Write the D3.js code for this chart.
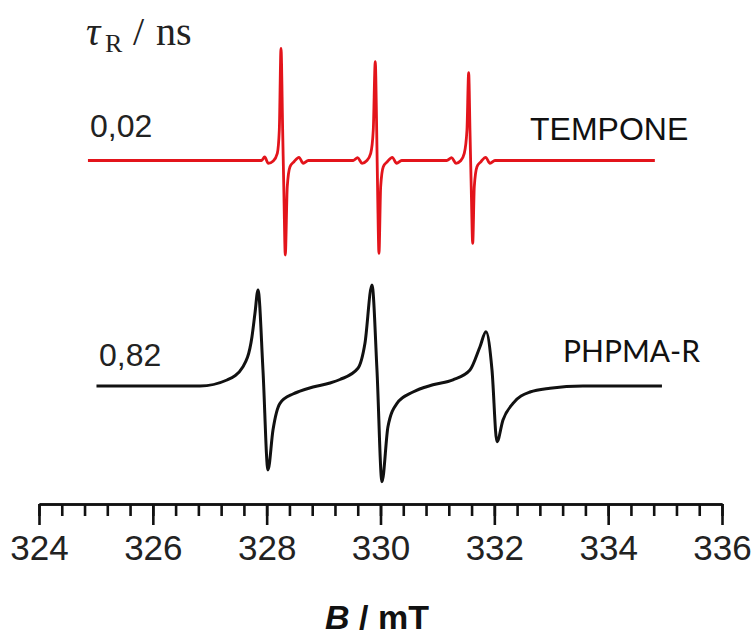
<!DOCTYPE html>
<head>
    <title>EPR spectra</title>
    <script src="https://cdnjs.cloudflare.com/ajax/libs/d3/7.8.5/d3.min.js"></script>
    <style>
        body { margin: 0; background: #fff; }
        svg { display: block; }
    </style>
</head>
<body>
    <div id="chart"></div>
    <script type="text/javascript">
        const width = 755;
        const height = 637;

        // TEMPONE spectrum (tau_R = 0,02 ns), field in mT, intensity relative to baseline
        const tempoB = [324.86, 327.91, 327.965, 328.029, 328.116, 328.187, 328.222, 328.252, 328.281, 328.304, 328.327, 328.362, 328.41, 328.48, 328.568, 328.643, 328.731,
                        329.522, 329.599, 329.675, 329.757, 329.828, 329.873, 329.908, 329.933, 329.951, 329.973, 330.003, 330.049, 330.119, 330.207, 330.284, 330.372,
                        331.163, 331.25, 331.326, 331.408, 331.472, 331.519, 331.549, 331.572, 331.595, 331.62, 331.648, 331.695, 331.765, 331.848, 331.924, 332.011, 334.82];
        const tempoI = [0, 0, 0.035, -0.028, -0.005, 0.072, 0.305, 1.122, 0.305, -0.362, -0.945, -0.262, -0.062, -0.012, 0.032, -0.028, 0,
                        0, 0.028, -0.028, -0.002, 0.072, 0.305, 0.988, 0.305, -0.362, -0.928, -0.262, -0.062, -0.012, 0.032, -0.028, 0,
                        0, 0.028, -0.028, -0.002, 0.072, 0.305, 0.878, 0.305, -0.295, -0.828, -0.262, -0.062, -0.012, 0.032, -0.028, 0, 0];

        // PHPMA-R spectrum (tau_R = 0,82 ns)
        const phpmaB = [325.01, 326.83, 327.303, 327.584, 327.742, 327.795, 327.848, 327.935, 328.023, 328.111, 328.234, 328.462, 328.585, 328.814, 329.112,
                        329.288, 329.604, 329.727, 329.85, 329.938, 330.026, 330.131, 330.29, 330.571, 330.922,
                        331.273, 331.572, 331.748, 331.853, 331.959, 332.046, 332.152, 332.328, 332.626, 332.978, 333.557, 334.945];
        const phpmaI = [0, 0, 0.06, 0.193, 0.493, 0.73, 0.96, 0.16, -0.84, -0.44, -0.173, -0.08, -0.052, -0.01, 0.03,
                        0.065, 0.177, 0.427, 1.01, 0.16, -0.957, -0.407, -0.173, -0.06, 0.012,
                        0.062, 0.16, 0.393, 0.543, 0.16, -0.557, -0.34, -0.173, -0.06, -0.022, 0, 0];

        const majorTicks = [324, 326, 328, 330, 332, 334, 336];
        const tauLabels = ["0,02", "0,82"];
        const sampleLabels = ["TEMPONE", "PHPMA-R"];

        const axisY = 504;
        const offsetBlack = -2.255;

        const svg = d3.select("#chart")
            .append("svg")
            .attr("width", width)
            .attr("height", height);

        // scales
        const xScale = d3.scaleLinear()
            .domain([324, 336])
            .range([39, 722]);

        const yScale = d3.scaleLinear()
            .domain([-4.765, 1.605])
            .range([height, 0]);

        // axis, minor ticks every 0.4 mT
        const minorTicks = d3.range(0, 31).map(i => +(324 + i * 0.4).toFixed(1));

        const minorAxis = d3.axisBottom(xScale)
            .tickValues(minorTicks)
            .tickSize(12)
            .tickSizeOuter(0)
            .tickFormat("");

        const majorAxis = d3.axisBottom(xScale)
            .tickValues(majorTicks)
            .tickSize(21)
            .tickSizeOuter(0)
            .tickPadding(10)
            .tickFormat(d3.format("d"));

        svg.append("g")
            .attr("class", "axis minor")
            .attr("transform", "translate(0," + axisY + ")")
            .call(minorAxis);

        svg.append("g")
            .attr("class", "axis major")
            .attr("transform", "translate(0," + axisY + ")")
            .call(majorAxis);

        svg.selectAll(".axis path, .axis line")
            .attr("stroke", "#111")
            .attr("stroke-width", 2.6);

        svg.selectAll(".axis.major text")
            .attr("font-family", "Liberation Sans, Arial, sans-serif")
            .attr("font-size", 35)
            .attr("fill", "#222");

        // axis title
        const title = svg.append("text")
            .attr("x", 377)
            .attr("y", 629)
            .attr("text-anchor", "middle")
            .attr("font-family", "Liberation Sans, Arial, sans-serif")
            .attr("font-weight", "bold")
            .attr("font-size", 34)
            .attr("fill", "#111");
        title.append("tspan").attr("font-style", "italic").text("B");
        title.append("tspan").text(" / mT");

        // spectra
        const line = d3.line()
            .x(d => xScale(d[0]))
            .y(d => yScale(d[1]))
            .curve(d3.curveMonotoneX);

        const red = tempoB.map((b, i) => [b, tempoI[i]]);
        const black = phpmaB.map((b, i) => [b, phpmaI[i] + offsetBlack]);

        svg.append("path")
            .datum(red)
            .attr("d", line)
            .attr("fill", "none")
            .attr("stroke", "#e3141b")
            .attr("stroke-width", 2.8)
            .attr("stroke-linejoin", "round");

        svg.append("path")
            .datum(black)
            .attr("d", line)
            .attr("fill", "none")
            .attr("stroke", "#111")
            .attr("stroke-width", 3)
            .attr("stroke-linejoin", "round");

        // tau_R header
        const tau = svg.append("text")
            .attr("y", 45)
            .attr("font-family", "Liberation Serif, Times New Roman, serif")
            .attr("font-size", 40)
            .attr("fill", "#222");
        tau.append("tspan").attr("x", 86).attr("font-style", "italic").text("τ");
        tau.append("tspan").attr("x", 105).attr("font-size", 26).attr("dy", 7).text("R");
        tau.append("tspan").attr("x", 133).attr("dy", -7).text("/");
        tau.append("tspan").attr("x", 156).text("ns");

        // labels
        svg.append("text")
            .attr("x", 90).attr("y", 137)
            .attr("font-family", "Liberation Sans, Arial, sans-serif")
            .attr("font-size", 32).attr("fill", "#222")
            .text(tauLabels[0]);

        svg.append("text")
            .attr("x", 99).attr("y", 366)
            .attr("font-family", "Liberation Sans, Arial, sans-serif")
            .attr("font-size", 32).attr("fill", "#222")
            .text(tauLabels[1]);

        svg.append("text")
            .attr("x", 530).attr("y", 140)
            .attr("font-family", "Liberation Sans, Arial, sans-serif")
            .attr("font-size", 32).attr("fill", "#111")
            .text(sampleLabels[0]);

        svg.append("text")
            .attr("x", 563).attr("y", 362)
            .attr("font-family", "Lato, Open Sans, sans-serif")
            .attr("font-size", 30).attr("fill", "#111")
            .text(sampleLabels[1]);
    </script>
</body>
